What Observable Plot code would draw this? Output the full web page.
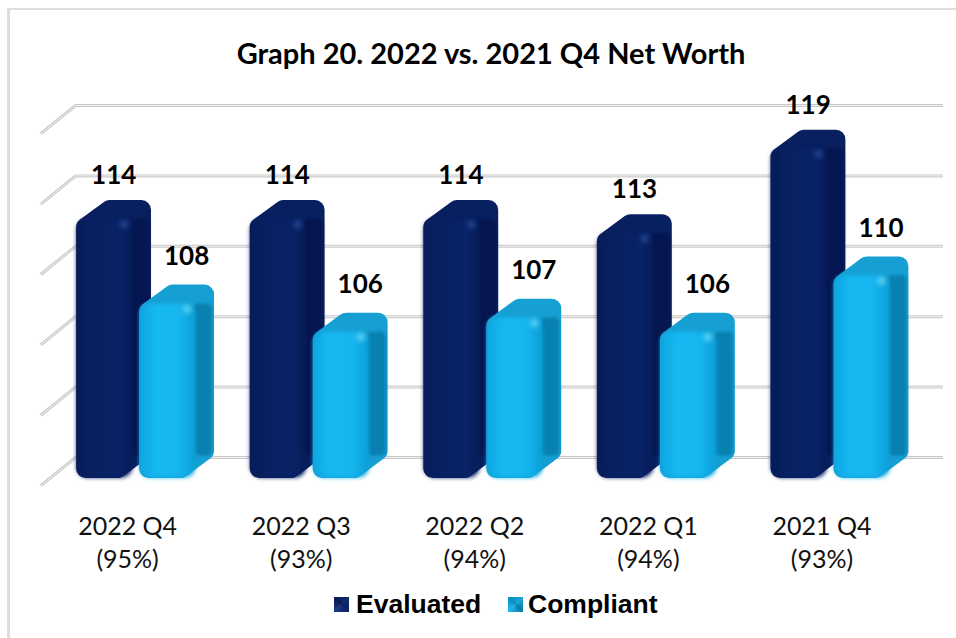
<!DOCTYPE html>
<html><head><meta charset="utf-8">
<script src="https://cdn.jsdelivr.net/npm/d3@7"></script>
<script src="https://cdn.jsdelivr.net/npm/@observablehq/plot@0.6"></script>
<style>
html,body{margin:0;padding:0;background:#fff;overflow:hidden}
#page{position:relative;width:956px;height:638px;overflow:hidden}
#frame{position:absolute;left:7px;top:8px;right:0;bottom:0;border-left:3px solid #dedede;border-top:2px solid #dedede}
#title{position:absolute;left:0;top:34px;width:982px;text-align:center;font:bold 29px/38px Lato,sans-serif;color:#000}
#chart{position:absolute;left:0;top:80px}
#legend{position:absolute;left:0;top:586px;font:bold 26.5px/36px "Liberation Sans",sans-serif;color:#000}
#legend span{position:absolute;white-space:nowrap}
#legend i{position:absolute;width:15px;height:15px;top:11px}
</style></head><body>
<div id="page"><div id="frame"></div><div id="title"></div><div id="chart"></div><div id="legend"></div></div>
<script>
const chartTitle = "Graph 20. 2022 vs. 2021 Q4 Net Worth";
const categories = ["2022 Q4\n(95%)","2022 Q3\n(93%)","2022 Q2\n(94%)","2022 Q1\n(94%)","2021 Q4\n(93%)"];
const evaluated = [114,114,114,113,119];
const compliant = [108,106,107,106,110];
const seriesNames = ["Evaluated","Compliant"];
const gridValues = [95,100,105,110,115,120];

// layout (axis-unit sizes of the pseudo-3D bars)
const depthX = 0.138, depthY = 1.25, frontW = 0.294, backTop = 0.75, frontBase = 93.5;
const insetX = 0.055, insetY = 0.68;   // silhouette inset, regained by a thick round-joined stroke

function shape(values, off){
  return values.flatMap((v,i)=>{
    const x0=i+off+insetX, w=frontW-2*insetX, t=v-backTop-insetY, f=t-depthY, b=frontBase+insetY;
    return [
      {id:i,x:x0,y1:b,y2:f},
      {id:i,x:x0+depthX,y1:b,y2:t},
      {id:i,x:x0+w,y1:b,y2:t},
      {id:i,x:x0+w+depthX,y1:b+depthY,y2:t}
    ];
  });
}
function barMarks(values, off, c, prefix){
  const rows = values.map((v,i)=>({i,v}));
  return [
    Plot.areaY(shape(values,off),{x:"x",y1:"y1",y2:"y2",z:"id",fill:c.top,stroke:c.top,strokeWidth:19,strokeLinejoin:"round",curve:"linear",imageFilter:"blur(0.6px)"}),
    Plot.rect(rows,{x1:d=>d.i+off+frontW+0.02,x2:d=>d.i+off+frontW+depthX-0.012,y1:d=>frontBase+depthY+0.35,y2:d=>d.v-2.1,fill:c.side,rx:5,imageFilter:"blur(1.5px)"}),
    Plot.rect(rows,{x1:d=>d.i+off+0.004,x2:d=>d.i+off+frontW+0.03,y1:frontBase+0.05,y2:d=>d.v-2.1,fill:`url(#${prefix}Front)`,rx:11,imageFilter:"blur(2px)"}),
    Plot.dot(rows,{x:d=>d.i+off+frontW-0.02,y:d=>d.v-2.45,r:4,fill:c.glow,fillOpacity:0.7,imageFilter:"blur(2.5px)"})
  ];
}
const defs = () => d3.create("svg:defs").html(`
  <linearGradient id="darkFront" x1="0" x2="1" y1="0" y2="0"><stop offset="0" stop-color="#061c58"/><stop offset="0.25" stop-color="#08205f"/><stop offset="0.75" stop-color="#092368"/><stop offset="1" stop-color="#071c58"/></linearGradient>
  <linearGradient id="lightFront" x1="0" x2="1" y1="0" y2="0"><stop offset="0" stop-color="#0ea6e2"/><stop offset="0.3" stop-color="#16b9f3"/><stop offset="0.7" stop-color="#16b6f0"/><stop offset="1" stop-color="#0b9ed6"/></linearGradient>
`).node();

const valueLabels = [
  ...evaluated.map((v,i)=>({i,v,off:0.22,lift:1})),
  ...compliant.map((v,i)=>({i,v,off:0.64,lift:1.25}))
];

const plot = Plot.plot({
  width:956, height:500,
  marginLeft:0, marginRight:0, marginTop:0, marginBottom:0,
  x:{type:"linear",domain:[0,5],range:[75,943],axis:null},
  y:{type:"linear",domain:[95,120],range:[377,25],axis:null},
  marks:[
    defs,
    Plot.link(gridValues,{x1:0,x2:-0.2,y1:d=>d,y2:d=>d-2,stroke:"#c8c8c8",strokeWidth:3}),
    Plot.link(gridValues,{x1:0,x2:-0.2,y1:d=>d,y2:d=>d-2,stroke:"#f2f2f2",strokeWidth:1}),
    Plot.ruleY(gridValues,{x1:0,x2:5,stroke:"#c8c8c8",strokeWidth:3}),
    Plot.ruleY(gridValues,{x1:0,x2:5,stroke:"#f2f2f2",strokeWidth:1}),
    ...barMarks(evaluated,0.006,{top:"#081f60",side:"#051650",glow:"#2c56a8"},"dark"),
    ...barMarks(compliant,0.369,{top:"#169fd3",side:"#0880b0",glow:"#7fe6ff"},"light"),
    Plot.text(valueLabels,{x:d=>d.i+d.off,y:d=>d.v+d.lift,text:d=>String(d.v),fontFamily:"Lato",fontWeight:700,fontSize:26,fill:"#000",textAnchor:"middle",lineAnchor:"middle"}),
    Plot.text(categories,{x:(d,i)=>i+0.3,y:()=>95,text:d=>d,dy:83,fontFamily:"Lato",fontSize:25,lineHeight:1.32,fill:"#111",textAnchor:"middle",lineAnchor:"middle"})
  ]
});
document.getElementById("chart").append(plot);
document.getElementById("title").textContent = chartTitle;
const lg = document.getElementById("legend");
const swatches = [
 {x:334,tx:356,bg:"conic-gradient(from 45deg,#102a6e,#0a2468 25%,#1c3a80 50%,#071a52 75%,#102a6e)"},
 {x:508,tx:528,bg:"conic-gradient(from 45deg,#1aa5d8,#0a7ca8 25%,#21b6e8 50%,#0d8dbf 75%,#1aa5d8)"}
];
seriesNames.forEach((n,i)=>{
  const s=document.createElement("i"); s.style.left=swatches[i].x+"px"; s.style.background=swatches[i].bg; lg.append(s);
  const t=document.createElement("span"); t.style.left=swatches[i].tx+"px"; t.textContent=n; lg.append(t);
});
</script></body></html>
